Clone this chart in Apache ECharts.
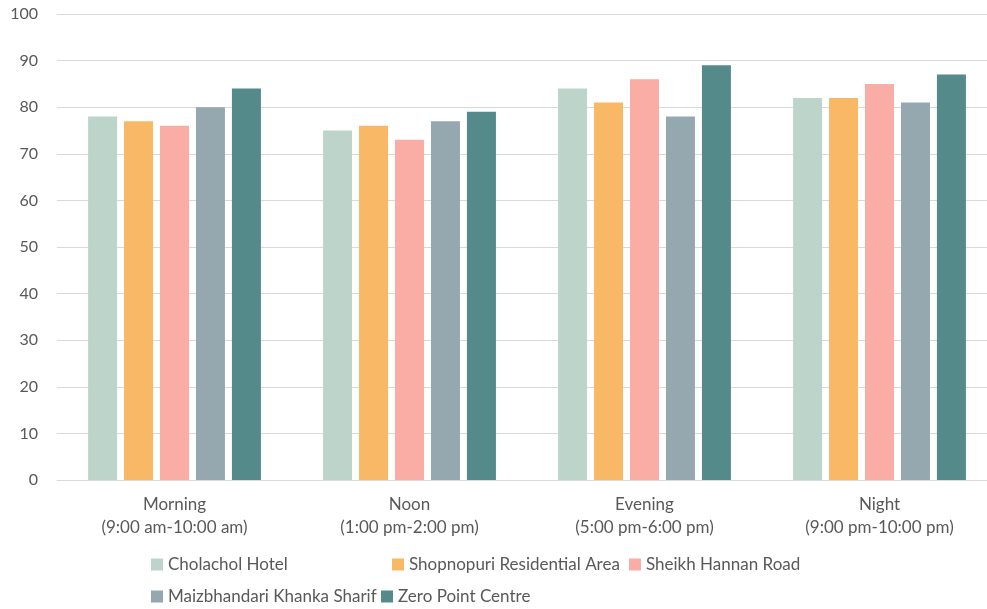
<!DOCTYPE html>
<html><head><meta charset="utf-8">
<script src="https://cdn.jsdelivr.net/npm/echarts@6/dist/echarts.min.js"></script>
<style>html,body{margin:0;padding:0;background:#fff;overflow:hidden}#c{width:1000px;height:609px}</style>
</head><body><div id="c"></div>
<script>
const categories = ['Morning\n(9:00 am-10:00 am)', 'Noon\n(1:00 pm-2:00 pm)', 'Evening\n(5:00 pm-6:00 pm)', 'Night\n(9:00 pm-10:00 pm)'];
const seriesNames = ['Cholachol Hotel', 'Shopnopuri Residential Area', 'Sheikh Hannan Road', 'Maizbhandari Khanka Sharif', 'Zero Point Centre'];
const cholachol = [78, 75, 84, 82];
const shopnopuri = [77, 76, 81, 82];
const sheikhHannan = [76, 73, 86, 85];
const maizbhandari = [80, 77, 78, 81];
const zeroPoint = [84, 79, 89, 87];
const yTicks = {min: 0, max: 100, interval: 10};

const colors = ['#BDD4CB', '#F8B865', '#F9ADA5', '#96A8AF', '#548A8A'];
const values = [cholachol, shopnopuri, sheikhHannan, maizbhandari, zeroPoint];
const font = 'Lato, "Open Sans", sans-serif';
const legendPos = [[151, 556], [392, 556], [629, 556], [151, 588], [381, 588]];

const chart = echarts.init(document.getElementById('c'));
chart.setOption({
  animation: false,
  color: colors,
  grid: {left: 57, top: 14, width: 940, height: 466, containLabel: false},
  legend: seriesNames.map((n, i) => ({
    data: [n], left: legendPos[i][0], top: legendPos[i][1],
    itemWidth: 12, itemHeight: 12, icon: 'rect', padding: 0,
    textStyle: {fontFamily: font, fontSize: 17, color: '#595959'}
  })),
  xAxis: {
    type: 'category', data: categories,
    axisLine: {lineStyle: {color: '#d9d9d9', width: 1}},
    axisTick: {show: false},
    axisLabel: {fontFamily: font, fontSize: 17, color: '#595959', lineHeight: 23, margin: 13}
  },
  yAxis: {
    type: 'value', min: yTicks.min, max: yTicks.max, interval: yTicks.interval,
    axisLine: {show: false}, axisTick: {show: false},
    splitLine: {lineStyle: {color: '#d9d9d9', width: 1}},
    axisLabel: {fontFamily: font, fontSize: 16, color: '#595959', margin: 19}
  },
  series: seriesNames.map((n, i) => ({
    name: n, type: 'bar', data: values[i],
    barWidth: 29, barGap: '24%',
    itemStyle: {color: colors[i]}
  }))
});
</script></body></html>
